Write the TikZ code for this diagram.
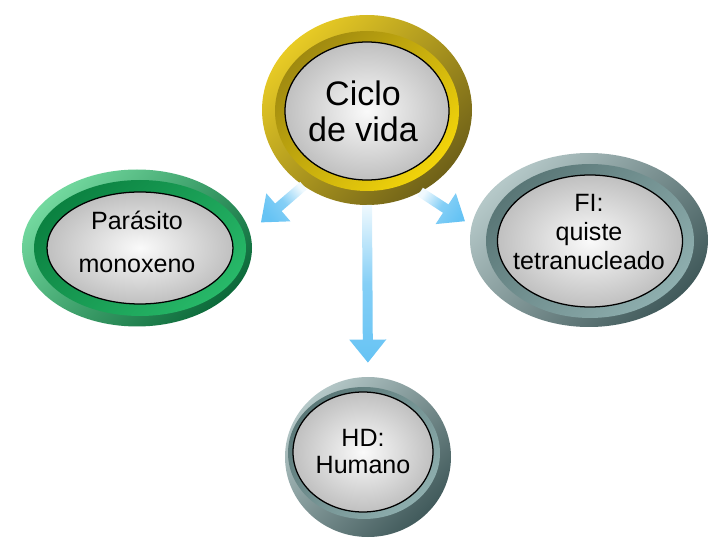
\documentclass[tikz,border=0pt]{standalone}
\usepackage{fontspec}
\setmainfont{Liberation Sans}
\usetikzlibrary{shapes.geometric, calc}

\definecolor{goldL}{HTML}{E8CB25}
\definecolor{goldD}{HTML}{6F6118}
\definecolor{goldB1}{HTML}{A08A10}
\definecolor{goldB2}{HTML}{F2D40A}
\definecolor{grnL}{HTML}{72D89E}
\definecolor{grnD}{HTML}{0C6A3A}
\definecolor{grnB1}{HTML}{0B8241}
\definecolor{grnB2}{HTML}{27B868}
\definecolor{tealL}{HTML}{B5C8C8}
\definecolor{tealD}{HTML}{415A5B}
\definecolor{tealB1}{HTML}{5A7777}
\definecolor{tealB2}{HTML}{8EAEAE}
\definecolor{discC}{HTML}{FAFAFA}
\definecolor{discE}{HTML}{C0C0C0}
\definecolor{sky}{HTML}{66C3F4}

\begin{document}
\begin{tikzpicture}[
        dims/.style 2 args={minimum width=#1, minimum height=#2},
        shell/.style 2 args={ellipse, inner sep=0pt, outer sep=0pt, top color=#1, bottom color=#2, shading angle=45},
        disc/.style={ellipse, inner sep=0pt, outer sep=0pt, draw=black, line width=0.9pt, inner color=discC, outer color=discE},
        txt/.style={align=center, inner sep=0pt},
        flow/.style={top color=sky!10!white, bottom color=sky, middle color=sky!80!white}
    ]
    \useasboundingbox (0,0) rectangle (18,13.5);

    % Ciclo de vida
    \node[shell={goldL}{goldD}, dims={5.25cm}{4.75cm}] (ciclo) at (9.175,10.75) {};
    \node[shell={goldB1}{goldB2}, dims={4.6cm}{4.0cm}] (ciclo-band) at (9.175,10.725) {};
    \node[disc, dims={4.1cm}{3.45cm}] (ciclo-in) at (ciclo-band) {};
    \node[txt, font=\fontsize{24.2pt}{25.6pt}\selectfont] (ciclo-txt) at ([xshift=-0.1cm]ciclo-in) {Ciclo\\de vida};

    % Parasito monoxeno
    \node[shell={grnL}{grnD}, dims={5.75cm}{3.925cm}] (parasito) at (3.425,7.3) {};
    \node[shell={grnB1}{grnB2}, dims={5.3cm}{3.4cm}] (parasito-band) at (3.5,7.3) {};
    \node[disc, dims={4.65cm}{2.8cm}] (parasito-in) at (parasito-band) {};
    \node[txt, font=\fontsize{17.8pt}{30.6pt}\selectfont] (parasito-txt) at ([shift={(-0.075,0.16)}]parasito-in) {Parásito\\monoxeno};

    % FI
    \node[shell={tealL}{tealD}, dims={5.95cm}{4.35cm}] (quiste) at (14.725,7.5) {};
    \node[shell={tealB1}{tealB2}, dims={5.2cm}{3.85cm}] (quiste-band) at (14.75,7.475) {};
    \node[disc, dims={4.625cm}{3.3cm}] (quiste-in) at (quiste-band) {};
    \node[txt, font=\fontsize{17.8pt}{20.6pt}\selectfont] (quiste-txt) at ([shift={(-0.025,0.225)}]quiste-in) {FI:\\quiste\\tetranucleado};

    % HD
    \node[shell={tealL}{tealD}, dims={4.15cm}{4.0cm}] (humano) at (9.2,2.075) {};
    \node[shell={tealB1}{tealB2}, dims={3.8cm}{3.3cm}] (humano-band) at (9.1,2.175) {};
    \node[disc, dims={3.5cm}{3.0cm}] (humano-in) at (9.075,2.2) {};
    \node[txt, font=\fontsize{17.8pt}{19.2pt}\selectfont] (humano-txt) at (humano-in) {HD:\\Humano};

    % arrows
    \foreach \src/\dst/\gap/\ang in {ciclo.230/parasito.8/0.375cm/-50, ciclo.303/quiste.173/0.2cm/56, ciclo.south/humano.north/0.36cm/0}{
        \coordinate (tip) at ($(\dst)!\gap!(\src)$);
        \coordinate (neck) at ($(tip)!0.575cm!(\src)$);
        \shade[flow, shading angle=\ang] ($(\src)!0.125cm!90:(tip)$) -- ($(neck)!0.125cm!-90:(\src)$)
            -- ($(neck)!0.4625cm!-90:(\src)$) -- (tip) -- ($(neck)!0.4625cm!90:(\src)$)
            -- ($(neck)!0.125cm!90:(\src)$) -- ($(\src)!0.125cm!-90:(tip)$) -- cycle;
    }

\end{tikzpicture}
\end{document}
